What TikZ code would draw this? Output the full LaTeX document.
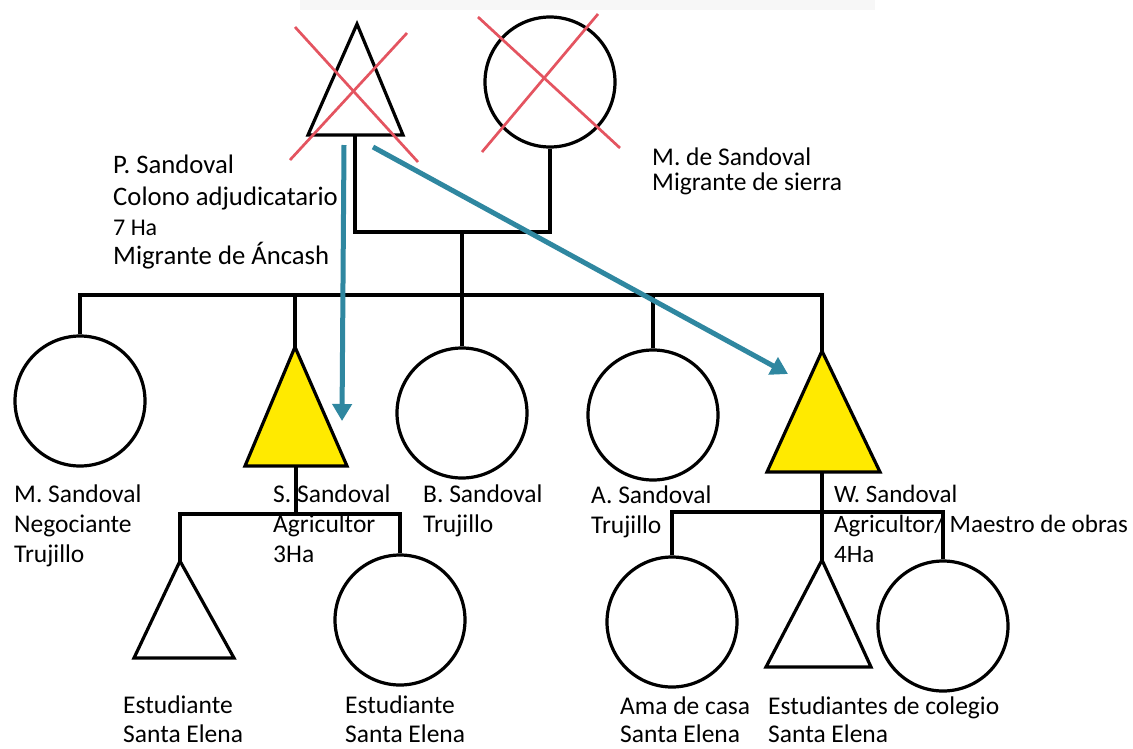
\documentclass[tikz,border=0pt]{standalone}
\usepackage{fontspec}
\newfontfamily\lblfont{Carlito}
\usetikzlibrary{arrows.meta}
\definecolor{crossred}{RGB}{228,84,96}
\definecolor{lineageblue}{RGB}{47,135,160}
\definecolor{malefill}{RGB}{255,234,0}
\newcommand\kinlabel[1]{\begin{tabular}[t]{@{}l@{}}#1\end{tabular}}
\begin{document}
\begin{tikzpicture}[x=1pt,y=-1pt,
  kin/.style={line width=3.2pt, line join=miter},
  female/.style={circle, draw, line width=3.2pt, inner sep=0pt, minimum size=130pt},
  malebox/.style={kin, draw},
  cross/.style={draw=crossred, line width=2.7pt},
  lineage/.style={draw=lineageblue, line width=5pt, -{Triangle[length=17pt,width=19pt]}},
  person/.style={anchor=base west, inner sep=0pt, font=\lblfont\fontsize{25.5}{30}\selectfont},
]
\useasboundingbox (0,0) rectangle (1133,748);
\fill[white] (0,0) rectangle (1133,748);
\fill[black!3] (300,0) rectangle (875,10);

% ---- founding couple ----
\coordinate (P-apex)  at (357,24);
\coordinate (P-left)  at (308,135);
\coordinate (P-right) at (403,135);
\coordinate (P-base)  at (355,135);
\draw[malebox] (P-apex) -- (P-right) -- (P-left) -- cycle;
\node[female] (Mde) at (550,82) {};

% deceased marks
\draw[cross] (295,27) -- (418,162);
\draw[cross] (407,33) -- (290,160);
\draw[cross] (478,17) -- (620,148);
\draw[cross] (598,14) -- (482,152);

% marriage and descent
\coordinate (union) at (462,232);
\coordinate (sib)   at (462,295);
\draw[kin] (P-base) |- (union) -| (Mde.south);
\draw[kin] (union) -- (sib);

% ---- second generation ----
\node[female] (M) at (80,401) {};
\coordinate (S-apex)  at (295,347);
\coordinate (S-left)  at (245,466);
\coordinate (S-right) at (347,466);
\coordinate (S-base)  at (296,466);
\draw[malebox, fill=malefill] (S-apex) -- (S-right) -- (S-left) -- cycle;
\node[female] (B) at (462,413) {};
\node[female] (A) at (653,415) {};
\coordinate (W-apex)  at (822,351);
\coordinate (W-left)  at (767,472);
\coordinate (W-right) at (880,472);
\coordinate (W-base)  at (822,472);
\draw[malebox, fill=malefill] (W-apex) -- (W-right) -- (W-left) -- cycle;

\draw[kin] (M.north) |- (sib) -| (W-apex);
\draw[kin] (S-apex) -- (S-apex |- sib);
\draw[kin] (B.north) -- (sib);
\draw[kin] (A.north) -- (A.north |- sib);

% ---- children of S. Sandoval ----
\coordinate (Sfam) at (296,514);
\coordinate (Sa-apex)  at (180,561);
\coordinate (Sa-left)  at (134,658);
\coordinate (Sa-right) at (234,658);
\draw[malebox] (Sa-apex) -- (Sa-right) -- (Sa-left) -- cycle;
\node[female] (Sb) at (400,620) {};
\draw[kin] (S-base) -- (Sfam);
\draw[kin] (Sa-apex) |- (Sfam) -| (Sb.north);

% ---- children of W. Sandoval ----
\coordinate (Wfam) at (822,512);
\node[female] (Wa) at (672,622) {};
\coordinate (Wb-apex)  at (822,560);
\coordinate (Wb-left)  at (766,667);
\coordinate (Wb-right) at (871,667);
\draw[malebox] (Wb-apex) -- (Wb-right) -- (Wb-left) -- cycle;
\node[female] (Wc) at (943,626) {};
\draw[kin] (W-base) -- (Wb-apex);
\draw[kin] (Wa.north) |- (Wfam) -| (Wc.north);

% ---- land inheritance ----
\coordinate (inh1) at (344,145);
\coordinate (inh2) at (373,147);
\coordinate (S-mark) at (342,421);
\coordinate (W-mark) at (788,374);
\draw[lineage] (inh1) -- (S-mark);
\draw[lineage] (inh2) -- (W-mark);

% ---- labels ----
\node[person, font=\lblfont\fontsize{26.7}{30}\selectfont] (lP) at (113,173)
  {\kinlabel{P. Sandoval\\[2pt] Colono adjudicatario\\ {\fontsize{24}{30}\selectfont 7 Ha}\\[-2pt] Migrante de Áncash}};
\node[person] (lMde) at (652,165) {\kinlabel{M. de Sandoval\\[-5pt] Migrante de sierra}};
\node[person] (lM) at (14,502) {\kinlabel{M. Sandoval\\ Negociante\\ Trujillo}};
\node[person] (lS) at (273,502) {\kinlabel{S. Sandoval\\ Agricultor\\ 3Ha}};
\node[person] (lB) at (423,502) {\kinlabel{B. Sandoval\\ Trujillo}};
\node[person] (lA) at (591,503) {\kinlabel{A. Sandoval\\ Trujillo}};
\node[person, font=\lblfont\fontsize{25}{30}\selectfont] (lW) at (834,502)
  {\kinlabel{W. Sandoval\\ Agricultor/ Maestro de obras\\ 4Ha}};
\node[person] (lSa) at (123,713) {\kinlabel{Estudiante\\[-1pt] Santa Elena}};
\node[person] (lSb) at (345,713) {\kinlabel{Estudiante\\[-1pt] Santa Elena}};
\node[person] (lWa) at (620,714) {\kinlabel{Ama de casa\\[-2pt] Santa Elena}};
\node[person] (lWb) at (768,714) {\kinlabel{Estudiantes de colegio\\[-2pt] Santa Elena}};
\end{tikzpicture}
\end{document}
